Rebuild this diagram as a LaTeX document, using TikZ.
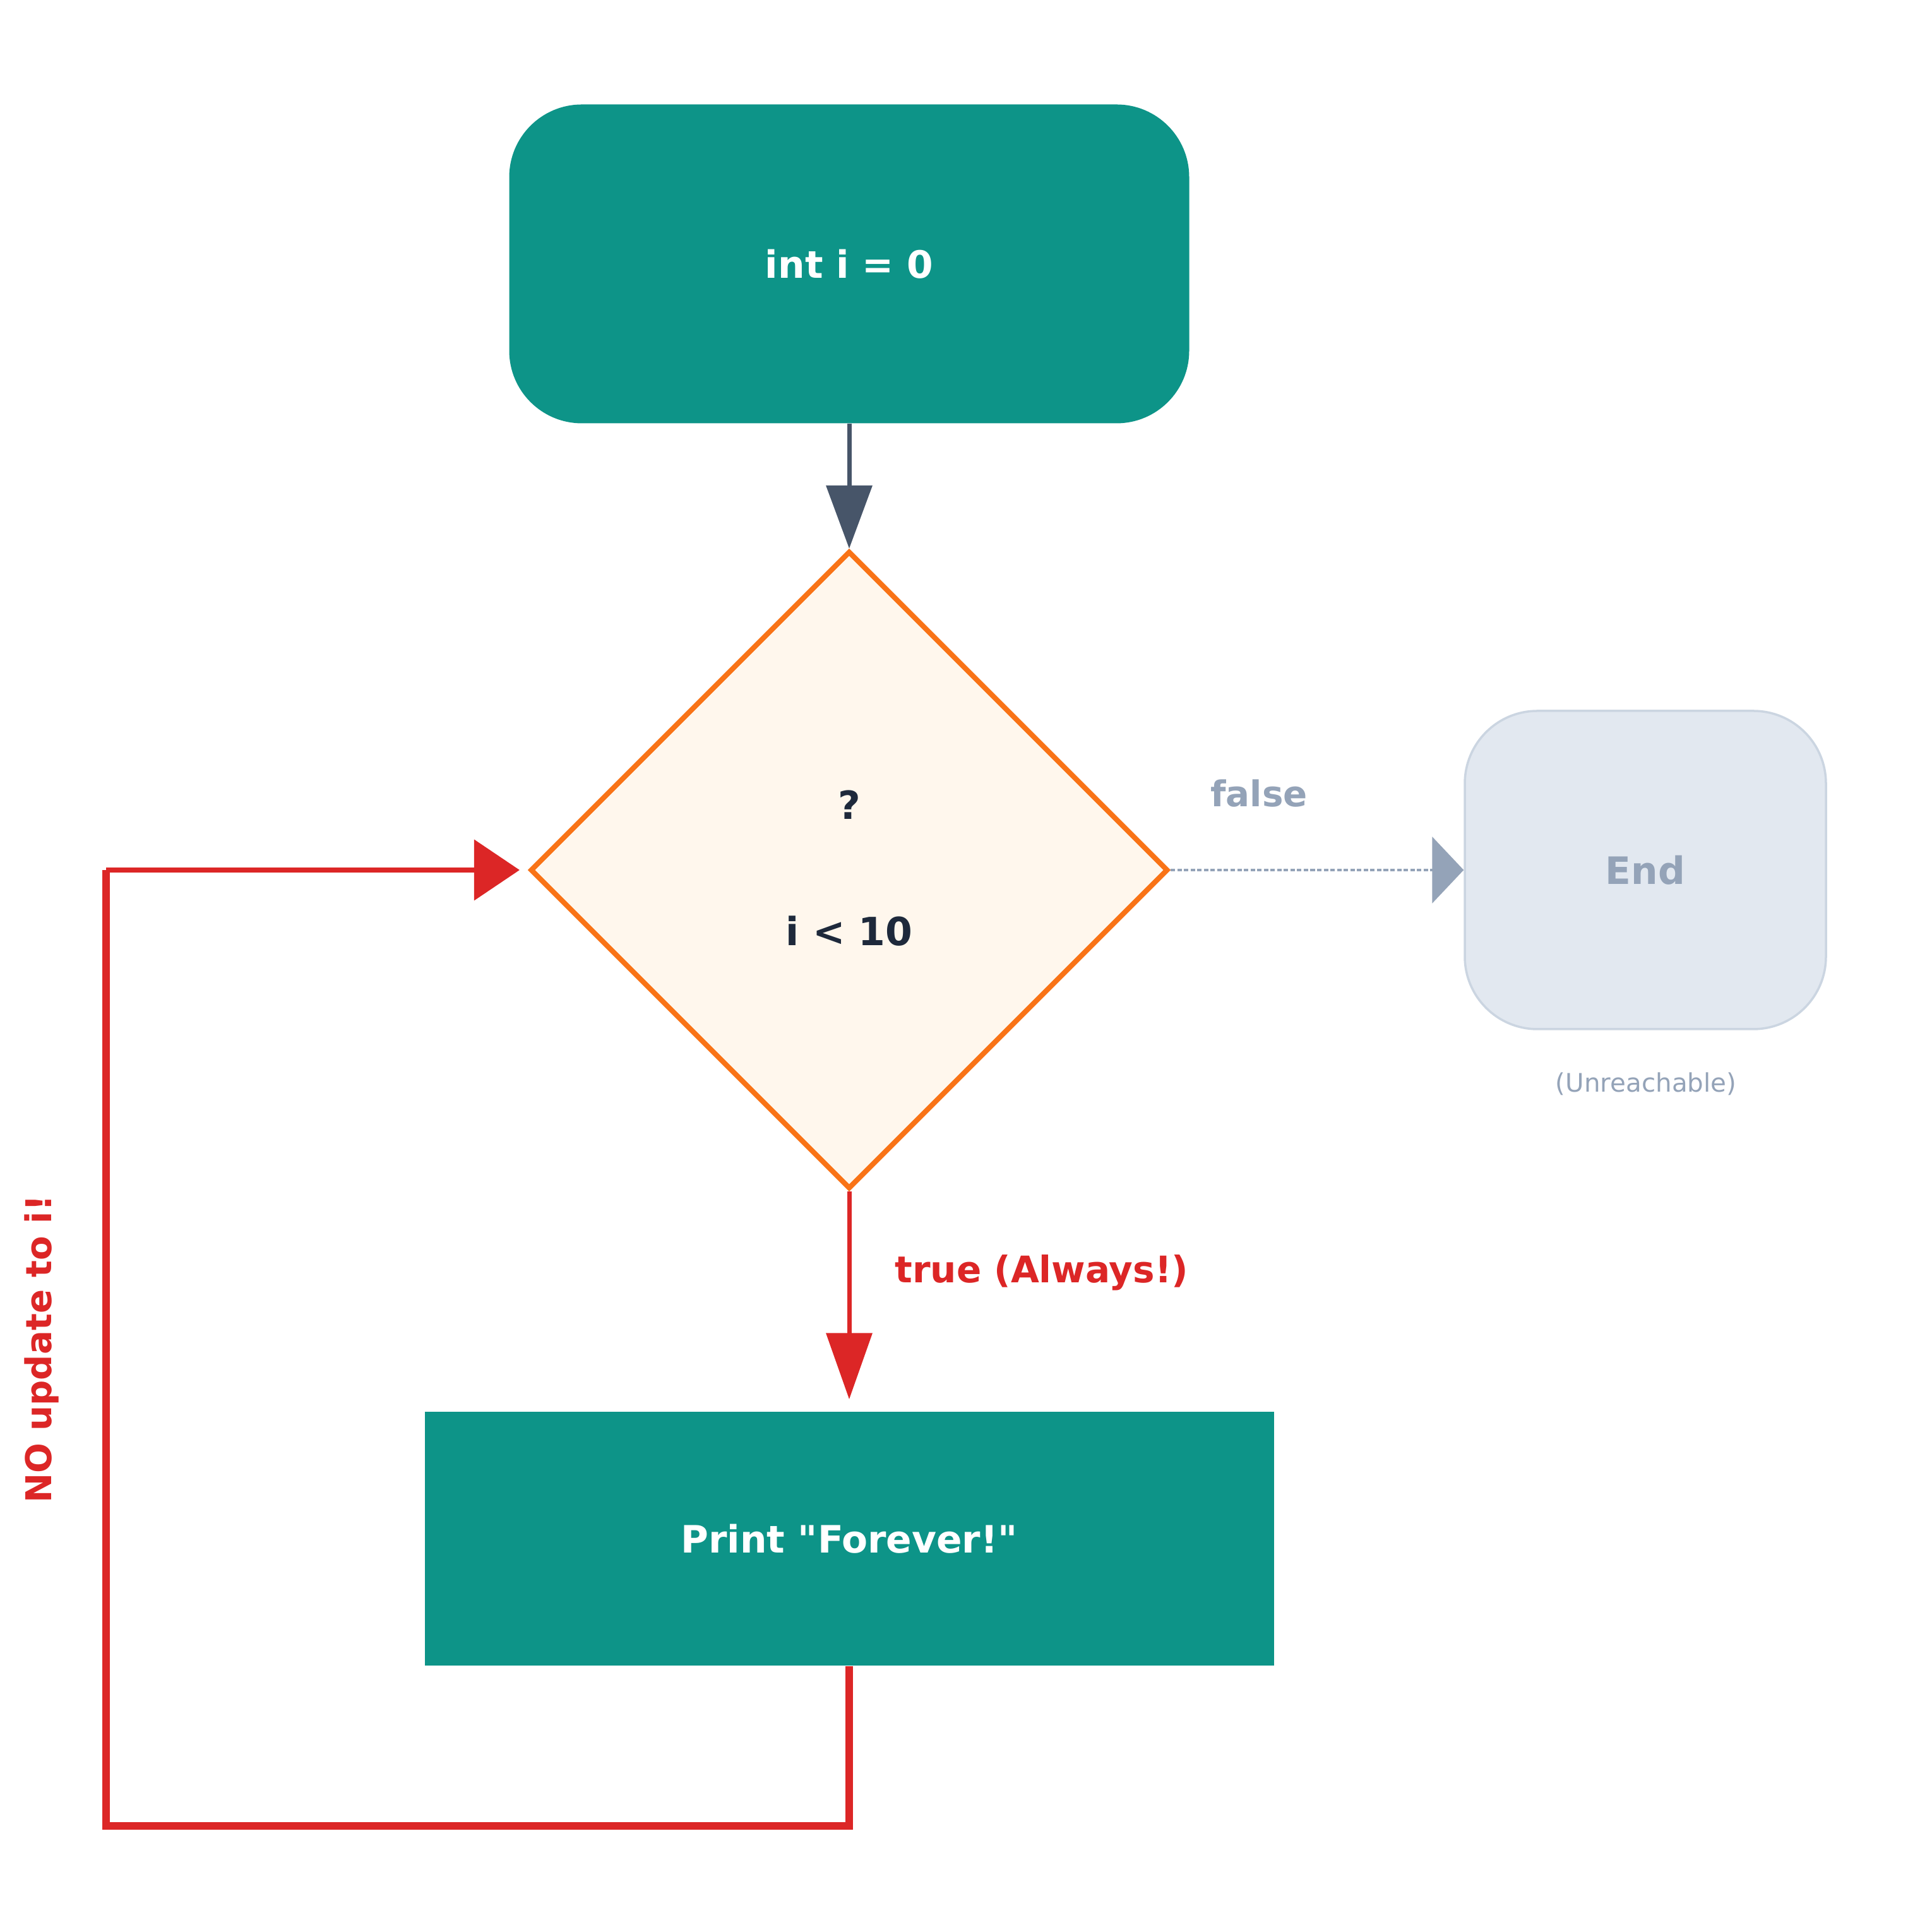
\documentclass[tikz,border=0pt]{standalone}
\usepackage{xcolor}
\usepackage{fontspec}
\setmainfont{DejaVu Sans}
\usepackage{tikz}
\usetikzlibrary{shapes.geometric, arrows.meta, positioning, calc}
\definecolor{tealfill}{HTML}{0D9488}
\definecolor{condfill}{HTML}{FFF7ED}
\definecolor{condline}{HTML}{F97316}
\definecolor{endfill}{HTML}{E2E8F0}
\definecolor{endline}{HTML}{CBD5E1}
\definecolor{mutedtext}{HTML}{94A3B8}
\definecolor{darktext}{HTML}{1E293B}
\definecolor{flowgray}{HTML}{475569}
\definecolor{loopred}{HTML}{DC2626}
\tikzstyle{startstop} = [rectangle, rounded corners=1.15cm, minimum width=10.77cm, minimum height=5.05cm, text centered, fill=tealfill, text=white, font=\fontsize{17}{20}\selectfont\bfseries]
\tikzstyle{decision} = [diamond, aspect=1, minimum size=10.1cm, inner sep=0pt, align=center, draw=condline, line width=2.3pt, fill=condfill, text=darktext, font=\fontsize{17.5}{21}\selectfont\bfseries]
\tikzstyle{process} = [rectangle, minimum width=13.45cm, minimum height=4.02cm, text centered, fill=tealfill, text=white, font=\fontsize{17}{20}\selectfont\bfseries]
\tikzstyle{endbox} = [rectangle, rounded corners=1.15cm, minimum width=5.72cm, minimum height=5.04cm, text centered, draw=endline, line width=1pt, fill=endfill, text=mutedtext, font=\fontsize{17}{20}\selectfont\bfseries]
\tikzstyle{arrow} = [line width=2pt, -{Triangle[length=1.0cm, width=0.72cm]}, color=flowgray]
\tikzstyle{truearrow} = [line width=2pt, -{Triangle[length=1.05cm, width=0.72cm]}, color=loopred, shorten >=0.19cm]
\tikzstyle{falsearrow} = [line width=1.3pt, dash pattern=on 2pt off 1pt, -{Triangle[length=0.5cm, width=1.05cm]}, color=mutedtext]
\tikzstyle{loopline} = [line width=3.2pt, color=loopred]
\tikzstyle{looparrow} = [line width=2.2pt, -{Triangle[length=0.72cm, width=0.95cm]}, color=loopred, shorten >=0.13cm]

\begin{document}
\begin{tikzpicture}[every node/.style={font=\fontsize{16}{19}\selectfont\bfseries}]
    \useasboundingbox[fill=white] (0,0) rectangle (30.6,30.6);

    \node[startstop] (init) at (13.45,26.42) {int i = 0};
    \node[decision] (cond) at (13.45,16.82) {\raisebox{4pt}{?}\\[34pt]\raisebox{2pt}{i < 10}};
    \node[endbox] (end) at (26.06,16.82) {End};
    \node[text=mutedtext, font=\fontsize{11.5}{14}\selectfont] (unreach) at (26.07,13.43) {(Unreachable)};
    \node[process] (print) at (13.45,6.23) {Print \textquotedbl Forever!\textquotedbl};

    \coordinate (loopbl) at (1.68,1.68);
    \coordinate (looptl) at (1.68,16.82);

    \draw[arrow] (init) -- (cond);
    \draw[falsearrow] (cond.east) -- (end.west);
    \draw[truearrow] (cond.south) -- (print.north);
    \draw[loopline] (print.south) |- (loopbl) -- (looptl);
    \draw[looparrow] (looptl) -- (cond.west);

    \node[text=mutedtext] (falselbl) at (19.94,18.03) {false};
    \node[text=loopred, anchor=west, font=\fontsize{16.5}{19}\selectfont\bfseries] (truelbl) at (14.05,10.44) {true (Always!)};
    \node[text=loopred, rotate=90] (nolbl) at (0.66,9.23) {NO update to i!};
\end{tikzpicture}
\end{document}
